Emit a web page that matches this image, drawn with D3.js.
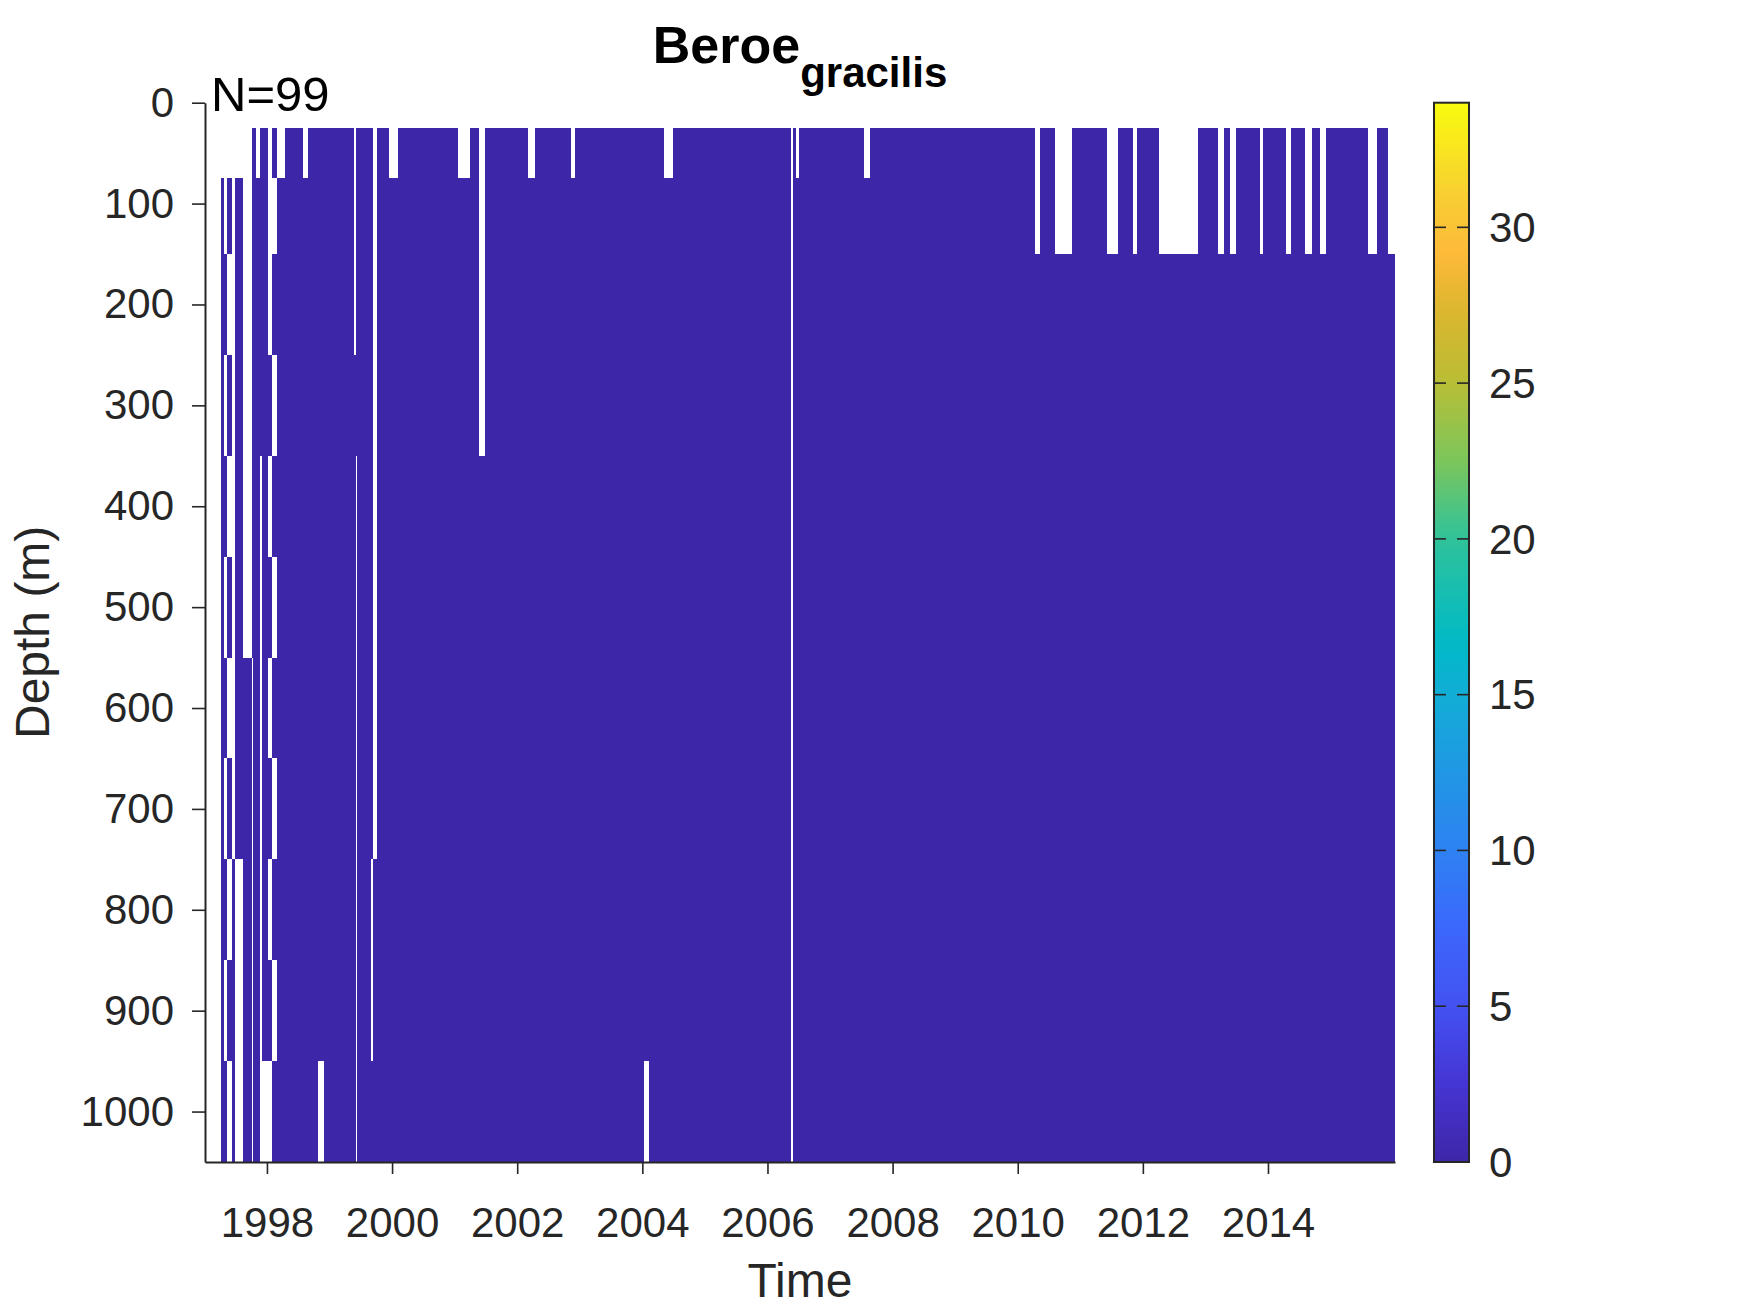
<!DOCTYPE html>
<html>
<head>
<meta charset="utf-8">
<script src="https://cdn.jsdelivr.net/npm/d3@7"></script>
<style>
  body { margin: 0; background: #fff; }
  svg { display: block; font-family: "Liberation Sans", Arial, Helvetica, sans-serif; }
</style>
</head>
<body>
<svg id="chart"></svg>
<script>
// depth of each sampled layer (m)
const depthLevels = [50, 100, 200, 300, 400, 500, 600, 700, 800, 900, 1000];

// column boundaries in decimal years (one cell column between two edges)
const timeEdges = [
  1997.272, 1997.319, 1997.367, 1997.447, 1997.495, 1997.623, 1997.767, 1997.783,
  1997.831, 1997.895, 1997.927, 1998.022, 1998.086, 1998.166, 1998.294, 1998.581,
  1998.661, 1998.821, 1998.917, 1999.385, 1999.417, 1999.444, 1999.657, 1999.700,
  1999.764, 1999.955, 2000.099, 2001.058, 2001.249, 2001.393, 2001.489, 2002.176,
  2002.288, 2002.863, 2002.927, 2004.029, 2004.109, 2004.348, 2004.492, 2006.377,
  2006.409, 2006.457, 2006.505, 2007.543, 2007.639, 2010.275, 2010.355, 2010.594,
  2010.866, 2011.425, 2011.601, 2011.840, 2011.904, 2012.256, 2012.879, 2013.198,
  2013.294, 2013.390, 2013.486, 2013.869, 2013.917, 2014.284, 2014.364, 2014.588,
  2014.700, 2014.827, 2014.923, 2015.594, 2015.738, 2015.925, 2016.026
];

// abundance per column, one char per depth level (top -> bottom), "." = no sample
const cellValues = [
  ".0000000000", "..0.0.0.0.0", ".0.0.0.0.0.", "........000", ".0000000...",
  "......00000", "000000.....", "00000000000", ".0000000000", "0000.......",
  "0000000000.", "...0.0.0.0.", "0.0.0.0.0.0", ".0000000000", "00000000000",
  ".0000000000", "00000000000", "0000000000.", "00000000000", "...00000000",
  "0000.......", "00000000000", "00000000..0", "........000", "00000000000",
  ".0000000000", "00000000000", ".0000000000", "00000000000", "....0000000",
  "00000000000", ".0000000000", "00000000000", ".0000000000", "00000000000",
  "0000000000.", "00000000000", ".0000000000", "00000000000", "...........",
  "00000000000", ".0000000000", "00000000000", ".0000000000", "00000000000",
  "..000000000", "00000000000", "..000000000", "00000000000", "..000000000",
  "00000000000", "..000000000", "00000000000", "..000000000", "00000000000",
  "..000000000", "00000000000", "..000000000", "00000000000", "..000000000",
  "00000000000", "..000000000", "00000000000", "..000000000", "00000000000",
  "..000000000", "00000000000", "..000000000", "00000000000", "..000000000"
];

const xTicks = [1998, 2000, 2002, 2004, 2006, 2008, 2010, 2012, 2014];
const yTicks = [0, 100, 200, 300, 400, 500, 600, 700, 800, 900, 1000];
const cbarTicks = [0, 5, 10, 15, 20, 25, 30];
const colorLimits = [0, 34];
const sampleCount = 99;
const timeLimits = [1997.01, 2016.03];

// parula-like colormap
const parula = ["#3e26a8", "#4535d4", "#4352f2", "#3c67fc", "#2e82f2", "#2097e4",
  "#12add6", "#00bac6", "#30c29a", "#7ac65c", "#b8be36", "#dfb62e", "#fdb93a",
  "#f8cd33", "#f9fb0e"];
const parulaPos = [0, 0.075, 0.147, 0.22, 0.294, 0.368, 0.44, 0.49, 0.59, 0.66,
  0.735, 0.81, 0.855, 0.91, 1];

const W = 1750, H = 1313;
const plot = { left: 205, right: 1395, top: 102.7, bottom: 1162 };
const cbar = { x: 1434, w: 35 };
const ink = "#262626";

const svg = d3.select("#chart").attr("width", W).attr("height", H);

// depth cell edges: midpoints between levels, half step beyond the ends
const depthEdges = depthLevels.map((d, i) =>
  i === 0 ? d - (depthLevels[1] - d) / 2 : (depthLevels[i - 1] + d) / 2);
const nL = depthLevels.length;
depthEdges.push(depthLevels[nL - 1] + (depthLevels[nL - 1] - depthLevels[nL - 2]) / 2);

const x = d3.scaleLinear().domain(timeLimits).range([plot.left, plot.right]);
const y = d3.scaleLinear().domain([0, depthEdges[nL]]).range([plot.top, plot.bottom]);

const color = d3.scaleLinear()
  .domain(parulaPos.map(p => colorLimits[0] + p * (colorLimits[1] - colorLimits[0])))
  .range(parula)
  .clamp(true);

const cells = [];
cellValues.forEach((col, i) => {
  col.split("").forEach((ch, j) => {
    if (ch === ".") return;
    cells.push({ t0: timeEdges[i], t1: timeEdges[i + 1], d0: depthEdges[j], d1: depthEdges[j + 1], v: +ch });
  });
});

svg.append("g")
  .attr("shape-rendering", "crispEdges")
  .selectAll("rect")
  .data(cells)
  .join("rect")
  .attr("x", d => x(d.t0))
  .attr("y", d => y(d.d0))
  .attr("width", d => x(d.t1) - x(d.t0))
  .attr("height", d => y(d.d1) - y(d.d0))
  .attr("fill", d => color(d.v));

// axes
function styleAxis(g) {
  g.select(".domain").attr("stroke", ink).attr("stroke-width", 2);
  g.selectAll(".tick line").attr("stroke", ink).attr("stroke-width", 1.6);
  g.selectAll(".tick text").attr("fill", ink).attr("font-size", 42)
    .attr("font-family", '"Liberation Sans", Arial, Helvetica, sans-serif');
}

svg.append("g")
  .attr("transform", `translate(0,${plot.bottom})`)
  .call(d3.axisBottom(x).tickValues(xTicks).tickFormat(d3.format("d"))
    .tickSize(12).tickSizeOuter(0).tickPadding(33))
  .call(styleAxis);

svg.append("g")
  .attr("transform", `translate(${plot.left},0)`)
  .call(d3.axisLeft(y).tickValues(yTicks).tickFormat(d3.format("d"))
    .tickSize(13).tickSizeOuter(0).tickPadding(18))
  .call(styleAxis);

// colorbar
const cy = d3.scaleLinear().domain(colorLimits).range([plot.bottom, plot.top]);
const grad = svg.append("defs").append("linearGradient")
  .attr("id", "cbar").attr("x1", 0).attr("y1", 1).attr("x2", 0).attr("y2", 0);
d3.range(0, 1.0001, 0.02).forEach(p => {
  grad.append("stop").attr("offset", p)
    .attr("stop-color", color(colorLimits[0] + p * (colorLimits[1] - colorLimits[0])));
});

svg.append("rect")
  .attr("x", cbar.x).attr("y", plot.top)
  .attr("width", cbar.w).attr("height", plot.bottom - plot.top)
  .attr("fill", "url(#cbar)");

const cticks = svg.append("g");
cticks.selectAll("line.l").data(cbarTicks).join("line").attr("class", "l")
  .attr("x1", cbar.x).attr("x2", cbar.x + 12)
  .attr("y1", d => cy(d)).attr("y2", d => cy(d))
  .attr("stroke", ink).attr("stroke-width", 1.6);
cticks.selectAll("line.r").data(cbarTicks).join("line").attr("class", "r")
  .attr("x1", cbar.x + cbar.w - 12).attr("x2", cbar.x + cbar.w)
  .attr("y1", d => cy(d)).attr("y2", d => cy(d))
  .attr("stroke", ink).attr("stroke-width", 1.6);
cticks.selectAll("text").data(cbarTicks).join("text")
  .attr("x", cbar.x + cbar.w + 20)
  .attr("y", d => cy(d))
  .attr("dy", "0.35em")
  .attr("font-size", 42)
  .attr("fill", ink)
  .text(d => d);

svg.append("rect")
  .attr("x", cbar.x).attr("y", plot.top)
  .attr("width", cbar.w).attr("height", plot.bottom - plot.top)
  .attr("fill", "none").attr("stroke", ink).attr("stroke-width", 2);

// labels
const title = svg.append("text")
  .attr("x", (plot.left + plot.right) / 2)
  .attr("y", 63)
  .attr("text-anchor", "middle")
  .attr("font-weight", "bold")
  .attr("fill", "#000");
title.append("tspan").attr("font-size", 52).text("Beroe");
title.append("tspan").attr("font-size", 42).attr("dy", 24).text("gracilis");

svg.append("text")
  .attr("x", plot.left + 6)
  .attr("y", 111)
  .attr("font-size", 49)
  .attr("fill", "#000")
  .text(`N=${sampleCount}`);

svg.append("text")
  .attr("transform", `translate(49,${(plot.top + plot.bottom) / 2}) rotate(-90)`)
  .attr("text-anchor", "middle")
  .attr("font-size", 48)
  .attr("fill", ink)
  .text("Depth (m)");

svg.append("text")
  .attr("x", (plot.left + plot.right) / 2)
  .attr("y", 1297)
  .attr("text-anchor", "middle")
  .attr("font-size", 48)
  .attr("fill", ink)
  .text("Time");
</script>
</body>
</html>
